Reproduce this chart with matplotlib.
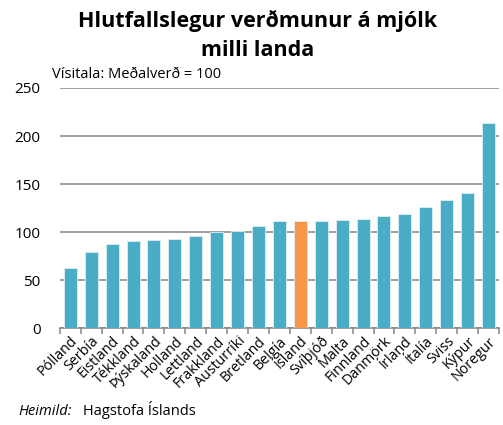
import numpy as np
import matplotlib.pyplot as plt

plt.rcParams['font.family'] = ['Open Sans', 'DejaVu Sans']

lond = ['Pólland', 'Serbía', 'Eistland', 'Tékkland', 'Þýskaland', 'Holland',
        'Lettland', 'Frakkland', 'Austurríki', 'Bretland', 'Belgía', 'Ísland',
        'Svíþjóð', 'Malta', 'Finnland', 'Danmörk', 'Írland', 'Ítalía', 'Sviss',
        'Kýpur', 'Noregur']
visitala = [62.5, 79.5, 87.5, 90.6, 91.7, 92.7, 95.8, 100, 100.7, 106.6, 111.5,
            111.5, 111.5, 112.5, 113.5, 116.7, 118.8, 125.7, 133.7, 140.6, 213.5]
yticks = [0, 50, 100, 150, 200, 250]

blue = '#4BACC6'
orange = '#F79646'
colors = [orange if l == 'Ísland' else blue for l in lond]

fig = plt.figure(figsize=(5.03, 4.25), dpi=100)
ax = fig.add_axes([0.119, 0.228, 0.873, 0.565])

x = np.arange(len(lond))
ax.bar(x, visitala, width=0.62, color=colors, edgecolor='#DDEFF4', linewidth=0.6, zorder=3)

ax.set_ylim(0, 250)
ax.set_xlim(-0.5, len(lond) - 0.5)
ax.set_yticks(yticks)
ax.yaxis.grid(True, color='#868686', linewidth=1.1, zorder=0)
ax.tick_params(axis='y', length=0, labelsize=11, pad=14)

ax.set_xticks(x)
ax.set_xticklabels(lond, rotation=45, ha='right', rotation_mode='anchor', fontsize=10.3)
ax.tick_params(axis='x', length=0, pad=4)
ax.set_xticks(np.arange(-0.5, len(lond)), minor=True)
ax.tick_params(axis='x', which='minor', length=4, color='#868686', width=1.1)

for s in ['left', 'right', 'top']:
    ax.spines[s].set_visible(False)
ax.spines['bottom'].set_color('#868686')
ax.spines['bottom'].set_linewidth(1.1)

fig.text(0.513, 0.976, 'Hlutfallslegur verðmunur á mjólk\nmilli landa', ha='center', va='top',
         fontsize=15.5, fontweight='bold', linespacing=1.5)
fig.text(0.103, 0.806, 'Vísitala: Meðalverð = 100', ha='left', va='bottom', fontsize=10.5)
fig.text(0.036, 0.015, 'Heimild:', style='italic', fontsize=10.5, ha='left', va='bottom')
fig.text(0.166, 0.015, 'Hagstofa Íslands', fontsize=10.5, ha='left', va='bottom')

fig.savefig('out.png', dpi=100)
